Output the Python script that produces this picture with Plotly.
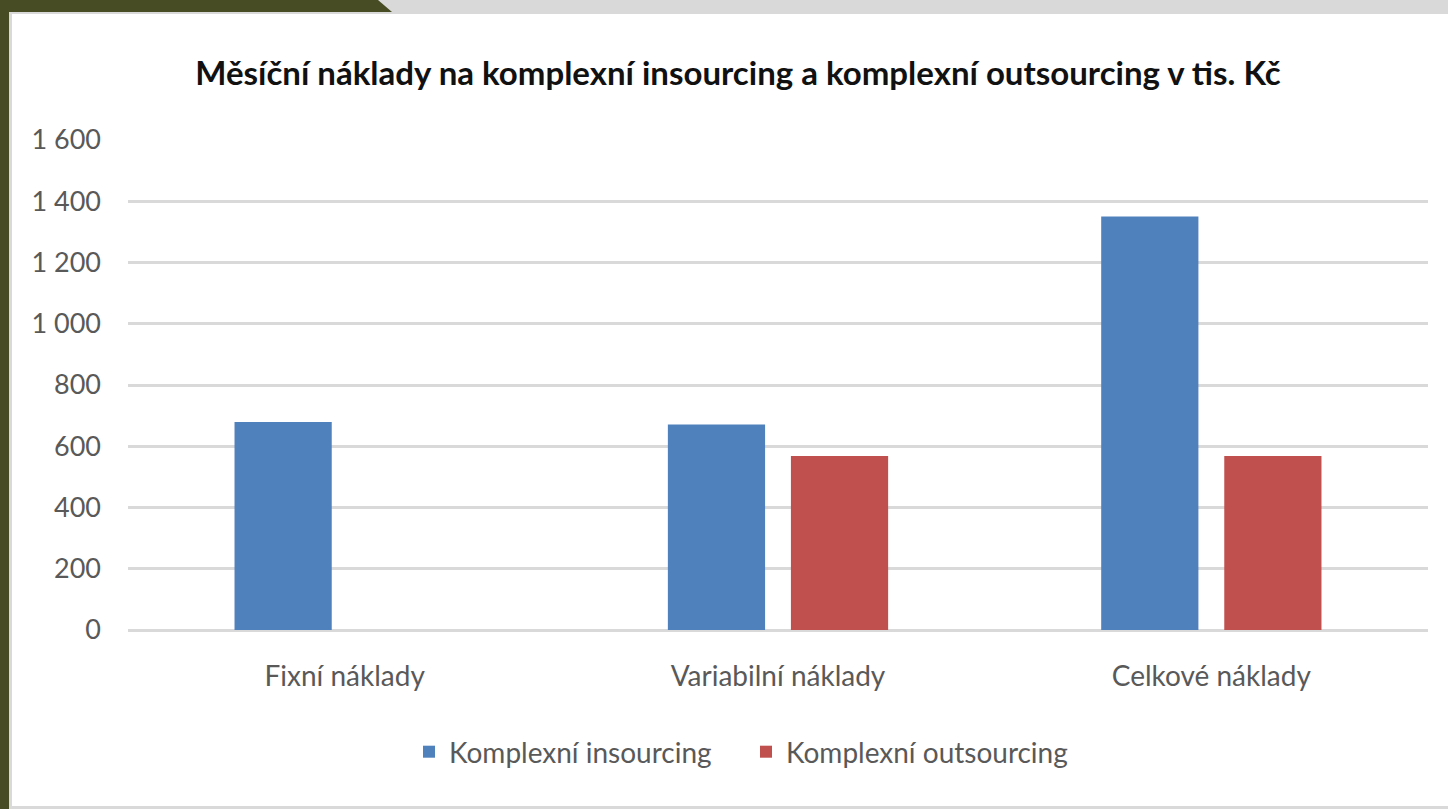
import plotly.graph_objects as go

# data (tis. Kč)
categories = ["Fixní náklady", "Variabilní náklady", "Celkové náklady"]
insourcing = [679, 671, 1350]
outsourcing = [0, 568, 568]
series_names = ["Komplexní insourcing", "Komplexní outsourcing"]
y_ticks = [0, 200, 400, 600, 800, 1000, 1200, 1400, 1600]
y_tick_labels = ["0", "200", "400", "600", "800", "1 000", "1 200", "1 400", "1 600"]

W, H = 1448, 809
L, R, T, B = 128, 20, 140, 179
PW, PH = W - L - R, H - T - B

FONT = "Lato, Open Sans, sans-serif"
GRAY = "#595959"


def px(x):
    return (x - L) / PW


def py(y):
    return (H - B - y) / PH


fig = go.Figure()
fig.add_trace(go.Bar(x=categories, y=insourcing, name=series_names[0],
                     marker=dict(color="#4F81BD", line=dict(width=0))))
fig.add_trace(go.Bar(x=categories, y=outsourcing, name=series_names[1],
                     marker=dict(color="#C0504D", line=dict(width=0))))

# slide frame: gray top band, olive corner and left band
shapes = [
    dict(type="path", xref="paper", yref="paper", layer="below", line=dict(width=0),
         fillcolor="#D9D9D9",
         path=f"M{px(0)},{py(0)} L{px(W)},{py(0)} L{px(W)},{py(14)} L{px(0)},{py(14)} Z"),
    dict(type="path", xref="paper", yref="paper", layer="below", line=dict(width=0),
         fillcolor="#474C24",
         path=f"M{px(0)},{py(0)} L{px(378)},{py(0)} L{px(392)},{py(12)} L{px(0)},{py(12)} Z"),
    dict(type="rect", xref="paper", yref="paper", layer="below", line=dict(width=0),
         fillcolor="#474C24", x0=px(0), x1=px(9), y0=py(H), y1=py(0)),
    dict(type="rect", xref="paper", yref="paper", layer="below", line=dict(width=0),
         fillcolor="#D9D9D9", x0=px(9), x1=px(12), y0=py(H), y1=py(12)),
    dict(type="rect", xref="paper", yref="paper", layer="below", line=dict(width=0),
         fillcolor="#D9D9D9", x0=px(12), x1=px(W), y0=py(H), y1=py(806)),
]

fig.update_layout(
    width=W, height=H,
    margin=dict(l=L, r=R, t=T, b=B, autoexpand=False),
    paper_bgcolor="white", plot_bgcolor="white",
    barmode="group", bargap=0.432, bargroupgap=0.21,
    title=dict(text="<b>Měsíční náklady na komplexní insourcing a komplexní outsourcing v tis. Kč</b>",
               x=738 / W, xanchor="center", y=1 - 73 / H, yanchor="middle",
               font=dict(family=FONT, size=33, color="#111111")),
    font=dict(family=FONT, size=28, color=GRAY),
    legend=dict(orientation="h", x=px(746), xanchor="center", y=py(752), yanchor="middle",
                font=dict(family=FONT, size=28, color=GRAY), itemwidth=30,
                entrywidth=292, bgcolor="rgba(0,0,0,0)"),
    shapes=shapes,
    showlegend=True,
)
fig.update_yaxes(range=[0, 1600], tickvals=y_ticks, ticktext=y_tick_labels,
                 showgrid=True, gridcolor="#D9D9D9", gridwidth=2.5,
                 zeroline=True, zerolinecolor="#D9D9D9", zerolinewidth=2.5,
                 showline=False, ticks="", ticklabelstandoff=26,
                 tickfont=dict(family=FONT, size=27, color=GRAY))
fig.update_xaxes(showgrid=False, showline=False, ticks="", ticklabelstandoff=27,
                 tickfont=dict(family=FONT, size=28, color=GRAY))

# drop the default page margin so the figure sits at the window corner
fig.write_html("out.html", config={"displayModeBar": False},
               post_script="document.body.style.margin='0';")
